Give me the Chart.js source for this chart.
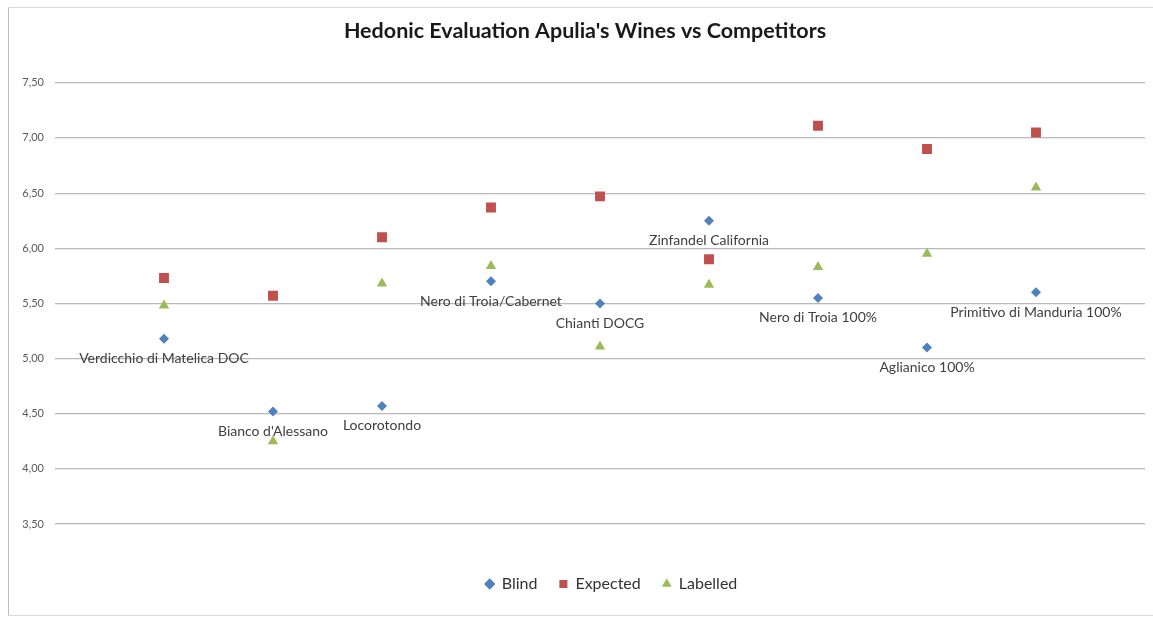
<!DOCTYPE html>
<html>
<head>
<meta charset="utf-8">
<script src="https://cdn.jsdelivr.net/npm/chart.js@4/dist/chart.umd.min.js"></script>
<style>
html,body{margin:0;padding:0;background:#fff;}
#wrap{width:1153px;height:618px;position:relative;}
</style>
</head>
<body>
<div id="wrap"><canvas id="c" width="1153" height="618"></canvas></div>
<script>
const categories = ["Verdicchio di Matelica DOC", "Bianco d'Alessano", "Locorotondo", "Nero di Troia/Cabernet", "Chianti DOCG", "Zinfandel California", "Nero di Troia 100%", "Aglianico 100%", "Primitivo di Manduria 100%"];
const blind = [5.18, 4.52, 4.57, 5.70, 5.50, 6.25, 5.55, 5.10, 5.60];
const expected = [5.73, 5.57, 6.10, 6.37, 6.47, 5.90, 7.11, 6.90, 7.05];
const labelled = [5.48, 4.25, 5.68, 5.84, 5.11, 5.67, 5.83, 5.95, 6.55];
const yTicks = [3.5, 4.0, 4.5, 5.0, 5.5, 6.0, 6.5, 7.0, 7.5];

const FONT = "Lato, 'Open Sans', sans-serif";
const toPts = arr => arr.map((v, i) => ({x: i + 1, y: v}));

const framePlugin = {
  id: 'frame',
  afterLayout(chart) {
    if (chart.titleBlock) chart.titleBlock.left += 25;
    if (chart.legend) chart.legend.left += 78;
  },
  beforeDraw(chart) {
    const ctx = chart.ctx;
    ctx.save();
    ctx.fillStyle = '#fff';
    ctx.fillRect(0, 0, chart.width, chart.height);
    ctx.lineWidth = 1;
    ctx.strokeStyle = '#d9d9d9';
    ctx.beginPath();
    ctx.moveTo(8.5, 7.5); ctx.lineTo(1153, 7.5);
    ctx.moveTo(8.5, 615.5); ctx.lineTo(1153, 615.5);
    ctx.stroke();
    ctx.strokeStyle = '#bcbcbc';
    ctx.beginPath();
    ctx.moveTo(8.5, 7.5); ctx.lineTo(8.5, 615.5);
    ctx.stroke();
    ctx.restore();
  }
};

const labelPlugin = {
  id: 'pointLabels',
  afterDatasetsDraw(chart) {
    const ctx = chart.ctx;
    const meta = chart.getDatasetMeta(0);
    ctx.save();
    ctx.font = "14px " + FONT;
    ctx.fillStyle = '#404040';
    ctx.textAlign = 'center';
    ctx.textBaseline = 'middle';
    meta.data.forEach((pt, i) => {
      ctx.fillText(categories[i], pt.x, pt.y + 20);
    });
    ctx.restore();
  }
};

new Chart(document.getElementById('c'), {
  type: 'scatter',
  data: {
    datasets: [
      {label: 'Blind', data: toPts(blind), pointStyle: 'rectRot', radius: 5, backgroundColor: '#4f81bd', borderColor: '#4f81bd', borderWidth: 0},
      {label: 'Expected', data: toPts(expected), pointStyle: 'rect', radius: 7, backgroundColor: '#c0504d', borderColor: '#c0504d', borderWidth: 0},
      {label: 'Labelled', data: toPts(labelled), pointStyle: 'triangle', radius: 6, backgroundColor: '#9bbb59', borderColor: '#9bbb59', borderWidth: 0}
    ]
  },
  options: {
    responsive: false,
    animation: false,
    layout: {padding: {left: 0, right: 8, top: 0, bottom: 16}},
    plugins: {
      title: {
        display: true,
        text: "Hedonic Evaluation Apulia's Wines vs Competitors",
        color: '#1a1a1a',
        font: {family: FONT, size: 21.5, weight: 'bold'},
        padding: {top: 18, bottom: 39}
      },
      legend: {
        position: 'bottom',
        labels: {
          usePointStyle: true,
          color: '#333333',
          font: {family: FONT, size: 16},
          padding: 22,
          boxWidth: 8,
          boxHeight: 8
        }
      },
      tooltip: {enabled: false}
    },
    scales: {
      x: {
        type: 'linear', min: 0, max: 10,
        grid: {display: false},
        border: {display: false},
        ticks: {display: false},
        afterFit: s => { s.height = 30; }
      },
      y: {
        min: 3.5, max: 7.5,
        afterBuildTicks: s => { s.ticks = yTicks.map(v => ({value: v})); },
        afterFit: s => { s.width = 55; },
        grid: {color: '#b9b9b9', lineWidth: 1.2, drawTicks: false},
        border: {display: false},
        ticks: {
          padding: 11,
          color: '#595959',
          font: {family: FONT, size: 11},
          callback: v => v.toFixed(2).replace('.', ',')
        }
      }
    }
  },
  plugins: [framePlugin, labelPlugin]
});
</script>
</body>
</html>
